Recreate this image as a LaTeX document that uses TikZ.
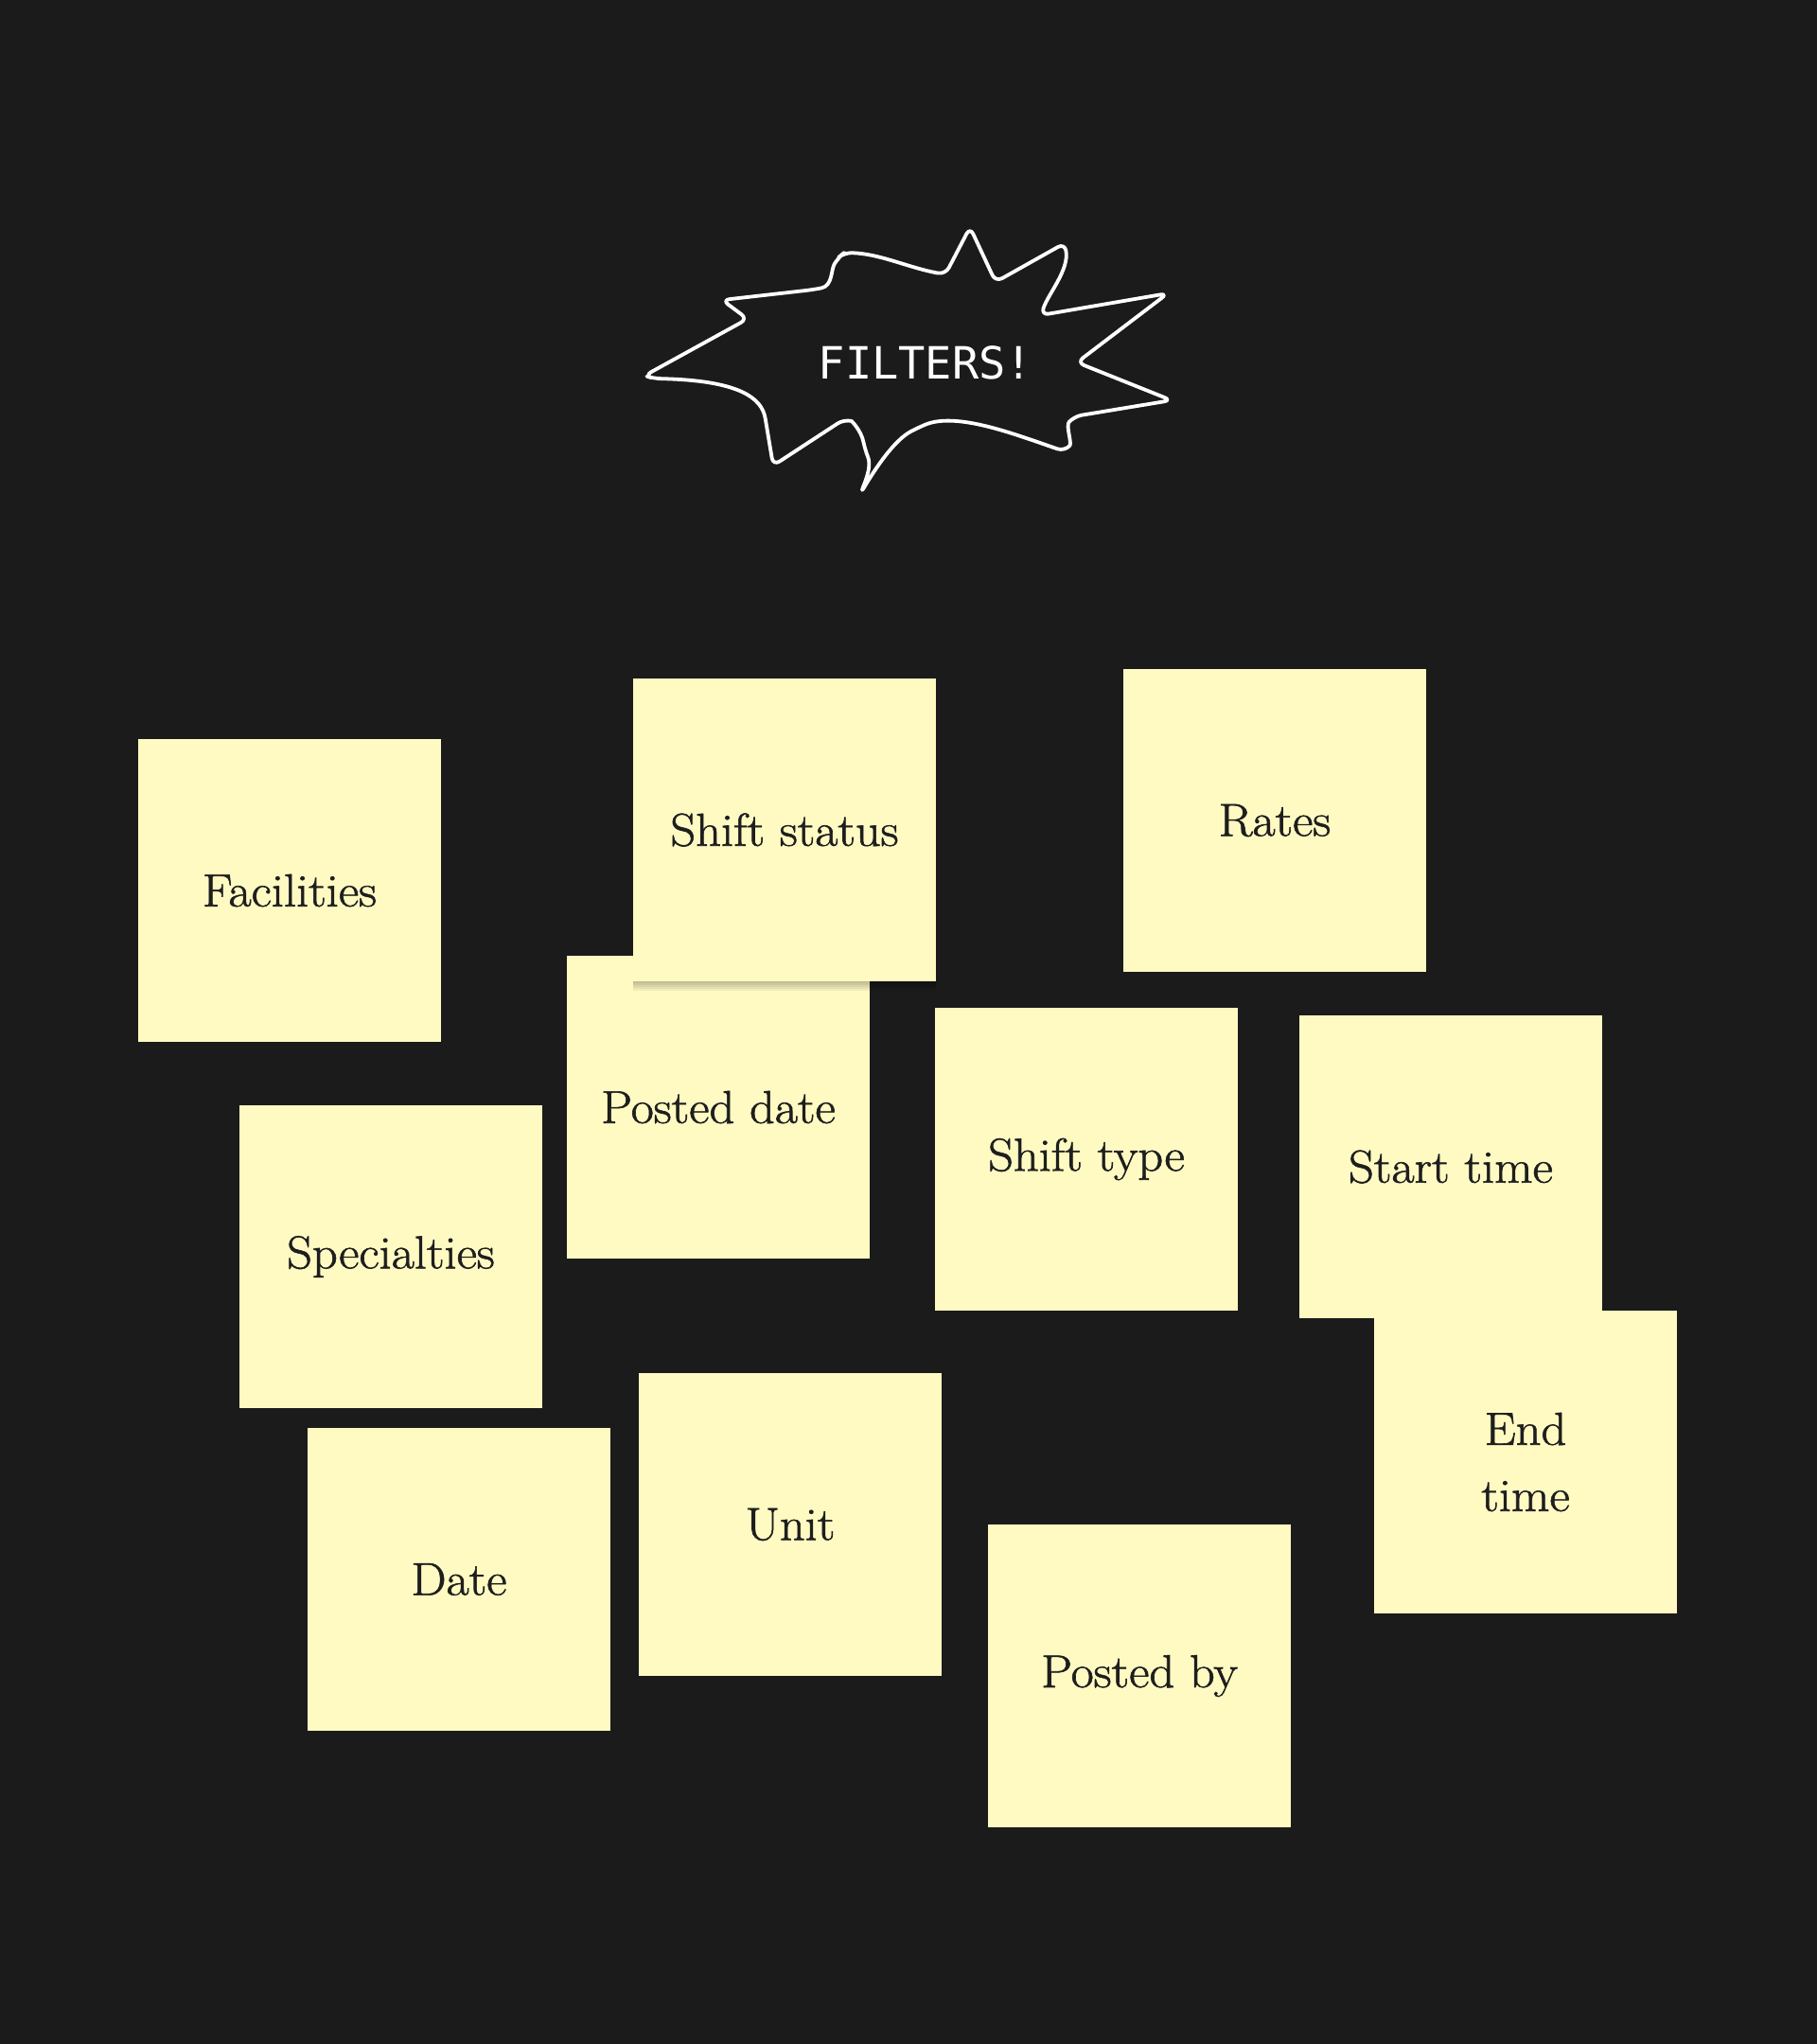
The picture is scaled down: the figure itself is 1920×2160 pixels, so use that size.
\documentclass[tikz,border=0pt]{standalone}
\usepackage{fontspec}
\newfontfamily\monofont{DejaVu Sans Mono}
\newfontfamily\notefont{Latin Modern Roman}[FakeStretch=1.07, FakeBold=1.2]
\definecolor{bg}{HTML}{1B1B1B}
\definecolor{note}{HTML}{FFFAC2}
\definecolor{ink}{HTML}{1E1E1E}
\begin{document}
\begin{tikzpicture}[x=0.5pt,y=-0.5pt,
  sticky/.style={fill=note, minimum width=160pt, minimum height=160pt, inner sep=0pt,
    align=center, text=ink, font=\notefont\fontsize{24.5}{35}\selectfont},
  burst/.style={draw=white, line width=1.9pt, line join=round, rounded corners=4pt}]
\fill[bg] (0,0) rectangle (1920,2160);
\useasboundingbox (0,0) rectangle (1920,2160);

% burst
\draw[burst] (681,397) -- (790,337) -- (763,317) -- (860,306)
 .. controls (880,302) and (878,285) .. (886,272) -- (892,267)
 .. controls (930,268) and (960,283) .. (999,290) -- (1025,240) -- (1052,298) -- (1125,257)
 .. controls (1130,285) and (1108,310) .. (1100,333) -- (1234,310) -- (1138,383) -- (1238,423) -- (1135,440)
 .. controls (1126,450) and (1133,468) .. (1125,477)
 .. controls (1070,458) and (1010,435) .. (970,452)
 .. controls (945,465) and (925,495) .. (909,522)
 .. controls (918,500) and (920,490) .. (914,475)
 .. controls (910,455) and (900,445) .. (892,443) -- (817,492) -- (810,450)
 .. controls (805,420) and (780,402) .. (691,400) -- cycle;
\node[text=white, font=\monofont\fontsize{23.5}{28}\selectfont] (title) at (978,383) {FILTERS!};

% sticky notes
\node[sticky] (facilities) at (306,941) {Facilities};
\node[sticky] (rates) at (1347,867) {Rates};
\node[sticky] (posteddate) at (759,1170) {Posted date};
% soft shadow under Shift status
\foreach \d in {2,4,6,8,10}
  \fill[black, opacity=0.05] (669,720) rectangle (989,1037+\d);
\node[sticky] (shiftstatus) at (829,877) {Shift status};
\node[sticky] (shifttype) at (1148,1225) {Shift type};
\node[sticky] (specialties) at (413,1328) {Specialties};
\node[sticky] (date) at (485,1669) {Date};
\node[sticky] (unit) at (835,1611) {Unit};
\node[sticky] (postedby) at (1204,1771) {Posted by};
\node[sticky] (starttime) at (1533,1233) {Start time};
\node[sticky] (endtime) at (1612,1545) {End\\time};
\end{tikzpicture}
\end{document}
